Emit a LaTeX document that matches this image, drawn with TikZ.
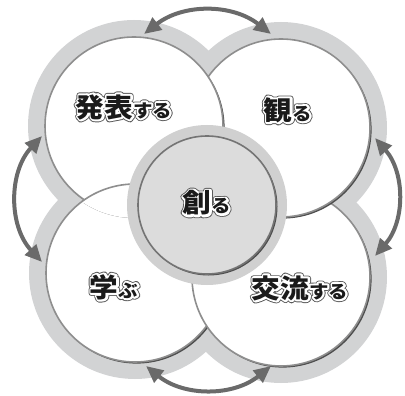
\documentclass[tikz,border=0pt]{standalone}
\usepackage{fontspec}
\newfontfamily\jpN{Noto Sans CJK JP}[FakeStretch=1.08]
\newfontfamily\jpGK{Noto Sans CJK JP}[FakeStretch=1.08,BoldFeatures={FakeBold=22}]
\newfontfamily\jpWK{Noto Sans CJK JP}[FakeStretch=1.08,BoldFeatures={FakeBold=15}]
\newfontfamily\jpGS{Noto Sans CJK JP}[FakeStretch=1.08,BoldFeatures={FakeBold=32}]
\newfontfamily\jpWS{Noto Sans CJK JP}[FakeStretch=1.08,BoldFeatures={FakeBold=22}]
\usetikzlibrary{arrows.meta}
\definecolor{ringgray}{HTML}{D2D3D4}
\definecolor{bordergray}{HTML}{8E8E8E}
\definecolor{shadowgray}{HTML}{4E4E4E}
\definecolor{arrowgray}{HTML}{6A6A6A}
\definecolor{centerfill}{HTML}{DCDCDC}
\definecolor{centerring}{HTML}{D0D0D0}
\definecolor{centerborder}{HTML}{747474}
\definecolor{olgray}{HTML}{5A5A5A}
\definecolor{txtblack}{HTML}{1A1A1A}
\newcommand\kjsize{\fontsize{26.5}{27}\selectfont}
\newcommand\knsize{\fontsize{18}{18}\selectfont}
\newcommand\olabel[2]{%
  \special{pdf:literal direct 1 j 1 J}%
  \makebox[0pt][l]{\color{olgray}{\jpGK\bfseries\kjsize #1}{\jpGS\bfseries\knsize #2}}%
  \makebox[0pt][l]{\color{white}{\jpWK\bfseries\kjsize #1}{\jpWS\bfseries\knsize #2}}%
  {\color{txtblack}{\jpN\bfseries\kjsize #1}{\jpN\bfseries\knsize #2}}}
\newcommand\rR{106}
\newcommand\rr{89}
\newcommand\disc[1]{%
  \fill[shadowgray] ([shift={(1.6,1.6)}]#1) circle[radius=\rr];
  \filldraw[fill=white,draw=bordergray,line width=1.6pt] (#1) circle[radius=\rr];}
\begin{document}
\begin{tikzpicture}[x=1pt,y=-1pt,
  arr/.style={draw=arrowgray,line width=4pt,>={Triangle[length=17pt,width=15pt]},<->},
  lbl/.style={inner sep=0pt}]
\useasboundingbox (0,0) rectangle (405,396);
\coordinate (cTL) at (134,126);
\coordinate (cTR) at (281,128);
\coordinate (cBL) at (135,273);
\coordinate (cBR) at (281,277);
\coordinate (cC) at (207,205);
% outer rings
\foreach \c in {cTL,cTR,cBL,cBR}{\fill[ringgray] (\c) circle[radius=\rR];}
% white discs, cyclic overlap
\disc{cBL}
\disc{cBR}
\disc{cTR}
\disc{cTL}
\begin{scope}
  \clip (cTL) circle[radius=\rr+3];
  \disc{cBL}
\end{scope}
% centre
\fill[centerring] (cC) circle[radius=80];
\fill[shadowgray] ([shift={(1.5,1.5)}]cC) circle[radius=69];
\filldraw[fill=centerfill,draw=centerborder,line width=1.6pt] (cC) circle[radius=69];
% arrows
\coordinate (aT1) at (144,34);
\coordinate (aT2) at (271,34);
\coordinate (aL1) at (42,136);
\coordinate (aL2) at (42,262);
\coordinate (aR1) at (375,138);
\coordinate (aR2) at (375,256);
\coordinate (aB1) at (146,366);
\coordinate (aB2) at (271,366);
\draw[arr] (aT1) to[bend left=38] (aT2);
\draw[arr] (aL1) to[bend right=43] (aL2);
\draw[arr] (aR1) to[bend left=41] (aR2);
\draw[arr] (aB1) to[bend right=39] (aB2);
% labels
\node[lbl] (happyo) at (124,107) {\olabel{発表}{する}};
\node[lbl] (miru) at (288,110) {\olabel{観}{る}};
\node[lbl] (tsukuru) at (207,203) {\olabel{創}{る}};
\node[lbl] (manabu) at (114,287) {\olabel{学}{ぶ}};
\node[lbl] (koryu) at (300,288) {\olabel{交流}{する}};
\end{tikzpicture}
\end{document}
